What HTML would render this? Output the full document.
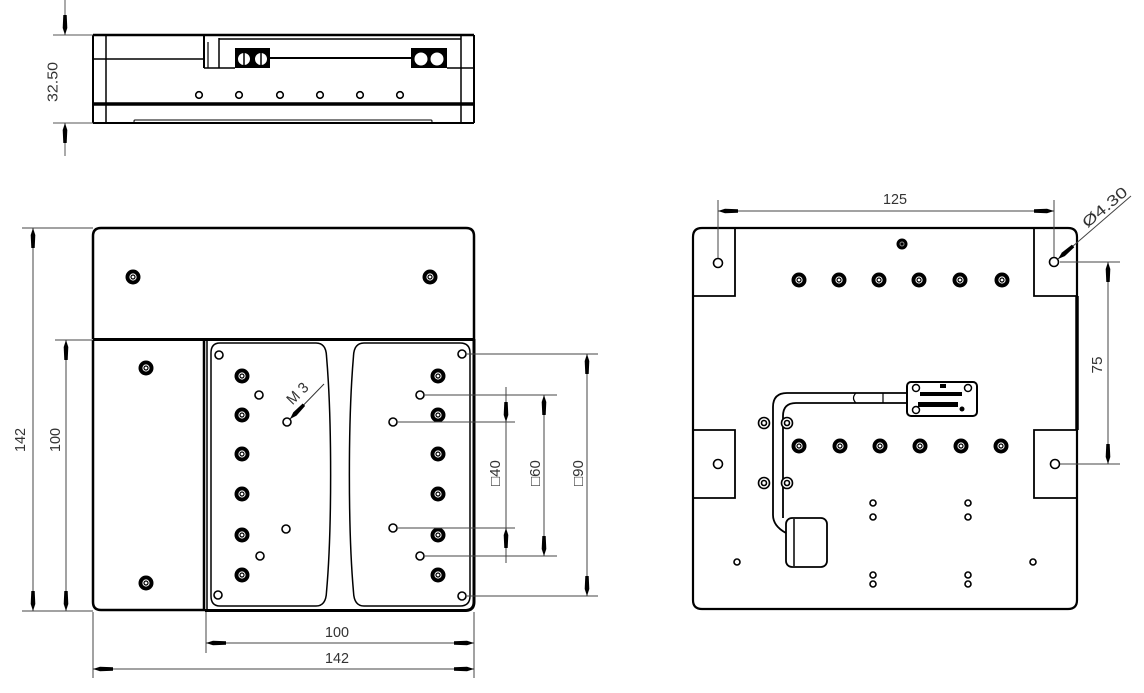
<!DOCTYPE html>
<html><head><meta charset="utf-8"><style>
html,body{margin:0;padding:0;background:#fff;}
svg{display:block;}
text{font-family:"Liberation Sans","DejaVu Sans",sans-serif;font-size:15px;fill:#333;}
</style></head><body>
<svg width="1144" height="693" viewBox="0 0 1144 693" xmlns="http://www.w3.org/2000/svg">
<defs>
<marker id="a" viewBox="0 0 20 6" refX="20" refY="3" markerWidth="20" markerHeight="6" markerUnits="userSpaceOnUse" orient="auto-start-reverse">
<path d="M0,1.3 L13,0.7 L20,3 L13,5.3 L0,4.7 Z" fill="#000"/>
</marker>
<symbol id="nut" viewBox="-8 -8 16 16" overflow="visible">
<circle r="7.5" fill="#000"/><circle r="3.6" fill="#fff"/><circle r="2" fill="none" stroke="#000" stroke-width="1.2"/>
</symbol>
<symbol id="ring" viewBox="-6 -6 12 12" overflow="visible">
<circle r="5.5" fill="#fff" stroke="#000" stroke-width="1.6"/><circle r="2.5" fill="none" stroke="#000" stroke-width="1.6"/>
</symbol>
</defs>

<!-- ============ TOP VIEW ============ -->
<g stroke="#000" fill="none">
<line x1="93" y1="35" x2="474" y2="35" stroke-width="2.5"/>
<line x1="93" y1="35" x2="93" y2="123" stroke-width="2"/>
<line x1="474" y1="35" x2="474" y2="123" stroke-width="2"/>
<line x1="106" y1="35" x2="106" y2="123" stroke-width="1.5"/>
<line x1="461" y1="35" x2="461" y2="123" stroke-width="1.5"/>
<line x1="93" y1="59" x2="204" y2="59" stroke-width="1.5"/>
<line x1="204" y1="35" x2="204" y2="68" stroke-width="2"/>
<line x1="208" y1="42" x2="208" y2="68" stroke-width="1.2"/>
<line x1="219" y1="38" x2="219" y2="68" stroke-width="1.5"/>
<line x1="204" y1="68" x2="235" y2="68" stroke-width="1.5"/>
<line x1="219" y1="39" x2="461" y2="39" stroke-width="1.5"/>
<line x1="270" y1="58" x2="411" y2="58" stroke-width="2"/>
<line x1="447" y1="68" x2="474" y2="68" stroke-width="1.5"/>
<line x1="93" y1="104" x2="474" y2="104" stroke-width="3.5"/>
<line x1="93" y1="123" x2="474" y2="123" stroke-width="2"/>
<rect x="134" y="120" width="298" height="2.5" rx="1" stroke-width="1"/>
</g>
<rect x="235" y="48" width="35" height="20" fill="#000"/>
<rect x="411" y="48" width="36" height="20" fill="#000"/>
<g fill="#fff" stroke="#000" stroke-width="1">
<circle cx="244" cy="59" r="6.5"/><circle cx="261" cy="59" r="6.5"/>
<circle cx="421" cy="59" r="7"/><circle cx="437" cy="59" r="7"/>
</g>
<g stroke="#000" stroke-width="1.5">
<line x1="244" y1="53" x2="244" y2="65"/><line x1="261" y1="53" x2="261" y2="65"/>
</g>
<g fill="#fff" stroke="#000" stroke-width="1.6">
<circle cx="199" cy="95" r="3.3"/><circle cx="239" cy="95" r="3.3"/><circle cx="280" cy="95" r="3.3"/>
<circle cx="320" cy="95" r="3.3"/><circle cx="360" cy="95" r="3.3"/><circle cx="400" cy="95" r="3.3"/>
</g>
<!-- 32.50 dim -->
<g stroke="#555" stroke-width="1" fill="none">
<line x1="53" y1="35" x2="93" y2="35"/>
<line x1="53" y1="123" x2="93" y2="123"/>
<line x1="65" y1="0" x2="65" y2="35" marker-end="url(#a)"/>
<line x1="65" y1="156" x2="65" y2="123" marker-end="url(#a)"/>
</g>
<text transform="translate(57.5,82) rotate(-90)" text-anchor="middle" textLength="40" lengthAdjust="spacingAndGlyphs">32.50</text>

<!-- ============ LEFT MAIN VIEW ============ -->
<g stroke="#000" fill="none">
<path d="M93,339 V236 Q93,228 101,228 H466 Q474,228 474,236 V339" stroke-width="2.5"/>
<line x1="93" y1="339.5" x2="474" y2="339.5" stroke-width="3"/>
<path d="M93,340 V602 Q93,610 101,610 H205" stroke-width="2.5"/>
<line x1="204" y1="340" x2="204" y2="610" stroke-width="2.5"/>
<line x1="207" y1="340" x2="207" y2="610" stroke-width="1.5"/>
<path d="M205,610.5 H466 Q474,610 474,602 V339" stroke-width="3"/>
<path d="M220,343 H316 Q326,343 326.5,356 C332,420 332,530 326.5,592 Q326,606 316,606 H220 Q211,606 211,596 V353 Q211,343 220,343 Z" stroke-width="1.5"/>
<path d="M460,343 H364 Q354,343 353.5,356 C348,420 348,530 353.5,592 Q354,606 364,606 H460 Q470,606 470,596 V353 Q470,343 460,343 Z" stroke-width="1.5"/>
</g>
<!-- nuts left view -->
<use href="#nut" x="125" y="269" width="16" height="16"/>
<use href="#nut" x="422" y="269" width="16" height="16"/>
<use href="#nut" x="138" y="360" width="16" height="16"/>
<use href="#nut" x="138" y="575" width="16" height="16"/>
<g>
<use href="#nut" x="234" y="368" width="16" height="16"/>
<use href="#nut" x="234" y="407" width="16" height="16"/>
<use href="#nut" x="234" y="446" width="16" height="16"/>
<use href="#nut" x="234" y="486" width="16" height="16"/>
<use href="#nut" x="234" y="527" width="16" height="16"/>
<use href="#nut" x="234" y="567" width="16" height="16"/>
<use href="#nut" x="430" y="368" width="16" height="16"/>
<use href="#nut" x="430" y="407" width="16" height="16"/>
<use href="#nut" x="430" y="446" width="16" height="16"/>
<use href="#nut" x="430" y="486" width="16" height="16"/>
<use href="#nut" x="430" y="527" width="16" height="16"/>
<use href="#nut" x="430" y="567" width="16" height="16"/>
</g>
<g fill="#fff" stroke="#000" stroke-width="1.6">
<circle cx="219" cy="355" r="4"/><circle cx="259" cy="395" r="4"/><circle cx="287" cy="422" r="4"/>
<circle cx="286" cy="529" r="4"/><circle cx="260" cy="556" r="4"/><circle cx="218" cy="595" r="4"/>
<circle cx="462" cy="354" r="4"/><circle cx="420" cy="395" r="4"/><circle cx="393" cy="422" r="4"/>
<circle cx="393" cy="528" r="4"/><circle cx="420" cy="556" r="4"/><circle cx="462" cy="596" r="4"/>
</g>
<!-- M3 leader -->
<line x1="324" y1="384" x2="290" y2="419" stroke="#333" stroke-width="1" marker-end="url(#a)"/>
<text transform="translate(301,397) rotate(-45)" text-anchor="middle" textLength="24" lengthAdjust="spacingAndGlyphs">M 3</text>
<!-- square dims -->
<g stroke="#444" stroke-width="1" fill="none">
<line x1="466" y1="354" x2="598" y2="354"/>
<line x1="466" y1="596" x2="598" y2="596"/>
<line x1="587" y1="354" x2="587" y2="596" marker-start="url(#a)" marker-end="url(#a)"/>
<line x1="424" y1="395" x2="557" y2="395"/>
<line x1="424" y1="556" x2="557" y2="556"/>
<line x1="544" y1="395" x2="544" y2="556" marker-start="url(#a)" marker-end="url(#a)"/>
<line x1="397" y1="422" x2="515" y2="422"/>
<line x1="397" y1="528" x2="515" y2="528"/>
<line x1="506" y1="387" x2="506" y2="422" marker-end="url(#a)"/>
<line x1="506" y1="563" x2="506" y2="528" marker-end="url(#a)"/>
<line x1="506" y1="422" x2="506" y2="528"/>
</g>
<text transform="translate(500,473) rotate(-90)" text-anchor="middle">□40</text>
<text transform="translate(540,473) rotate(-90)" text-anchor="middle">□60</text>
<text transform="translate(583,473) rotate(-90)" text-anchor="middle">□90</text>
<!-- left dims -->
<g stroke="#444" stroke-width="1" fill="none">
<line x1="22" y1="228" x2="93" y2="228"/>
<line x1="22" y1="611" x2="93" y2="611"/>
<line x1="55" y1="340" x2="93" y2="340"/>
<line x1="33" y1="228" x2="33" y2="611" marker-start="url(#a)" marker-end="url(#a)"/>
<line x1="66" y1="340" x2="66" y2="611" marker-start="url(#a)" marker-end="url(#a)"/>
</g>
<text transform="translate(25,440) rotate(-90)" text-anchor="middle" textLength="24" lengthAdjust="spacingAndGlyphs">142</text>
<text transform="translate(60,440) rotate(-90)" text-anchor="middle" textLength="24" lengthAdjust="spacingAndGlyphs">100</text>
<!-- bottom dims -->
<g stroke="#444" stroke-width="1" fill="none">
<line x1="206" y1="612" x2="206" y2="653"/>
<line x1="474" y1="612" x2="474" y2="678"/>
<line x1="93" y1="612" x2="93" y2="678"/>
<line x1="206" y1="643" x2="474" y2="643" marker-start="url(#a)" marker-end="url(#a)"/>
<line x1="93" y1="669" x2="474" y2="669" marker-start="url(#a)" marker-end="url(#a)"/>
</g>
<text x="337" y="637" text-anchor="middle" textLength="24" lengthAdjust="spacingAndGlyphs">100</text>
<text x="337" y="663" text-anchor="middle" textLength="24" lengthAdjust="spacingAndGlyphs">142</text>

<!-- ============ RIGHT VIEW ============ -->
<g stroke="#000" fill="none">
<path d="M693,237 Q693,228 702,228 H1068 Q1077,228 1077,237 V600 Q1077,609 1068,609 H702 Q693,609 693,600 Z" stroke-width="2.2"/>
<line x1="1077" y1="296" x2="1077" y2="430" stroke-width="3.5"/>
<path d="M735,228 V296 H693" stroke-width="1.8"/>
<path d="M1034,228 V296 H1077" stroke-width="1.8"/>
<path d="M693,430 H735 V498 H693" stroke-width="1.8"/>
<path d="M1077,430 H1034 V498 H1077" stroke-width="1.8"/>
<!-- cable -->
<path d="M907,393 H787 Q773,393 773,407 V515 Q773,526 786,533" stroke-width="1.8"/>
<path d="M907,403 H796 Q783,403 783,416 V518" stroke-width="1.8"/>
<path d="M856,393 Q851,398 856,403" stroke-width="1.2"/>
<line x1="883" y1="393" x2="883" y2="403" stroke-width="1.2"/>
<rect x="786" y="518" width="41" height="49" rx="6" stroke-width="1.8" fill="#fff"/>
<line x1="794" y1="519" x2="794" y2="566" stroke-width="1.5"/>
<rect x="907" y="382" width="70" height="34" rx="4" stroke-width="2" fill="#fff"/>
</g>
<g fill="#000">
<rect x="920" y="392" width="42" height="4"/>
<rect x="918" y="402" width="40" height="5"/>
<rect x="940" y="384" width="6" height="4"/>
<circle cx="962" cy="409" r="2.5"/>
</g>
<g fill="#fff" stroke="#000" stroke-width="1.5">
<circle cx="916" cy="388" r="3.5"/><circle cx="968" cy="388" r="3.5"/><circle cx="916" cy="410" r="3.5"/>
</g>
<use href="#ring" x="758" y="417" width="12" height="12"/>
<use href="#ring" x="781" y="417" width="12" height="12"/>
<use href="#ring" x="758" y="477" width="12" height="12"/>
<use href="#ring" x="781" y="477" width="12" height="12"/>
<circle cx="902" cy="244" r="5.5" fill="#000"/>
<circle cx="902" cy="244" r="2" fill="none" stroke="#888" stroke-width="1"/>
<g>
<use href="#nut" x="791" y="272" width="16" height="16"/>
<use href="#nut" x="831" y="272" width="16" height="16"/>
<use href="#nut" x="871" y="272" width="16" height="16"/>
<use href="#nut" x="911" y="272" width="16" height="16"/>
<use href="#nut" x="952" y="272" width="16" height="16"/>
<use href="#nut" x="994" y="272" width="16" height="16"/>
<use href="#nut" x="791" y="438" width="16" height="16"/>
<use href="#nut" x="832" y="438" width="16" height="16"/>
<use href="#nut" x="872" y="438" width="16" height="16"/>
<use href="#nut" x="912" y="438" width="16" height="16"/>
<use href="#nut" x="953" y="438" width="16" height="16"/>
<use href="#nut" x="993" y="438" width="16" height="16"/>
</g>
<g fill="#fff" stroke="#000" stroke-width="1.6">
<circle cx="718" cy="263" r="4.5"/><circle cx="1054" cy="262" r="4.5"/>
<circle cx="718" cy="464" r="4.5"/><circle cx="1055" cy="464" r="4.5"/>
<circle cx="737" cy="562" r="3"/><circle cx="1033" cy="562" r="3"/>
<circle cx="873" cy="503" r="3"/><circle cx="873" cy="517" r="3"/>
<circle cx="968" cy="503" r="3"/><circle cx="968" cy="517" r="3"/>
<circle cx="873" cy="575" r="3"/><circle cx="873" cy="584" r="3"/>
<circle cx="968" cy="575" r="3"/><circle cx="968" cy="584" r="3"/>
</g>
<!-- right dims -->
<g stroke="#444" stroke-width="1" fill="none">
<line x1="718" y1="200" x2="718" y2="258"/>
<line x1="1054" y1="200" x2="1054" y2="257"/>
<line x1="718" y1="211" x2="1054" y2="211" marker-start="url(#a)" marker-end="url(#a)"/>
<line x1="1060" y1="262" x2="1120" y2="262"/>
<line x1="1060" y1="464" x2="1120" y2="464"/>
<line x1="1108" y1="262" x2="1108" y2="464" marker-start="url(#a)" marker-end="url(#a)"/>
<line x1="1131" y1="196" x2="1058" y2="259" marker-end="url(#a)"/>
</g>
<text x="895" y="204" text-anchor="middle" textLength="24" lengthAdjust="spacingAndGlyphs">125</text>
<text transform="translate(1102,365) rotate(-90)" text-anchor="middle" textLength="17" lengthAdjust="spacingAndGlyphs">75</text>
<text transform="translate(1108,211) rotate(-40)" text-anchor="middle" textLength="54" lengthAdjust="spacingAndGlyphs">Ø4.30</text>
</svg>
</body></html>
